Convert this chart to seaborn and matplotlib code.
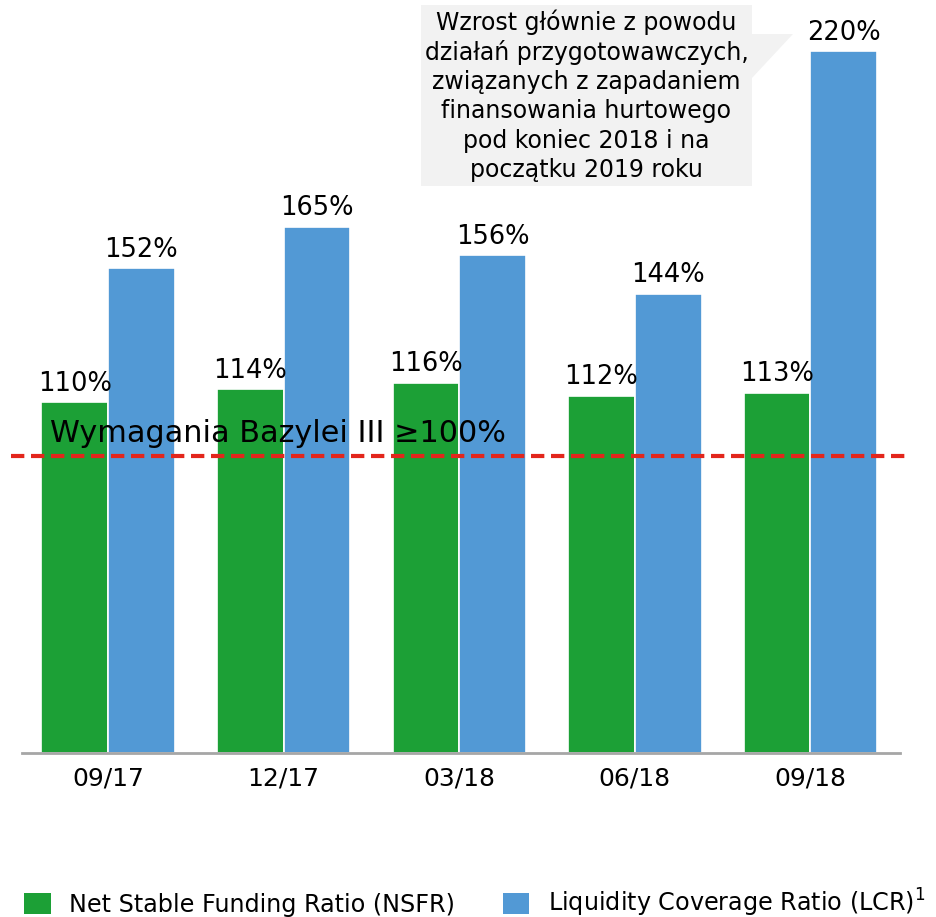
import matplotlib
matplotlib.use("Agg")
import matplotlib.pyplot as plt
import seaborn as sns
import pandas as pd
from matplotlib.patches import Polygon, Patch

periods = ["09/17", "12/17", "03/18", "06/18", "09/18"]
nsfr = [110, 114, 116, 112, 113]
lcr = [152, 165, 156, 144, 220]
series_names = ["Net Stable Funding Ratio (NSFR)", "Liquidity Coverage Ratio (LCR)$^1$"]
threshold_label = "Wymagania Bazylei III ≥100%"
note_text = ("Wzrost głównie z powodu\ndziałań przygotowawczych,\nzwiązanych z zapadaniem\n"
             "finansowania hurtowego\npod koniec 2018 i na\npoczątku 2019 roku")

GREEN = "#1ca036"
BLUE = "#5299d5"
RED = "#e3261c"

sns.set_theme(style="white")
plt.rcParams["font.family"] = ["DejaVu Sans"]

df = pd.DataFrame({
    "period": periods * 2,
    "metric": [series_names[0]] * len(periods) + [series_names[1]] * len(periods),
    "value": nsfr + lcr,
})

fig = plt.figure(figsize=(9.37, 9.17), dpi=100)
ax = fig.add_axes([0.0235, 0.1788, 0.937, 0.80])

sns.barplot(data=df, x="period", y="value", hue="metric", palette=[GREEN, BLUE],
            saturation=1, width=0.76, edgecolor="white", linewidth=1.2, ax=ax,
            legend=False)

ax.set_xlim(-0.49, 4.51)
ax.set_ylim(0, 230)
ax.set_xlabel("")
ax.set_ylabel("")
ax.set_yticks([])
for s in ["top", "right", "left"]:
    ax.spines[s].set_visible(False)
ax.spines["bottom"].set_color("#a6a6a6")
ax.spines["bottom"].set_linewidth(2)
ax.tick_params(axis="x", length=0, labelsize=18, pad=10, colors="black")

for cont in ax.containers:
    ax.bar_label(cont, labels=[f"{v:.0f}%" for v in cont.datavalues], padding=4,
                 fontsize=18.5, color="black")

# threshold dashed line
ax.axhline(93, xmin=-0.012, xmax=1.006, color=RED, lw=3, ls=(0, (3.2, 1.6)),
           clip_on=False, zorder=5)
ax.text(-0.33, 95.5, threshold_label, fontsize=21.8, color="black", ha="left",
        va="bottom", zorder=6)

# callout box
box_l, box_r, box_t, box_b = 421 / 937, 752 / 937, 1 - 5 / 917, 1 - 186 / 917
fig.patches.append(plt.Rectangle((box_l, box_b), box_r - box_l, box_t - box_b,
                                 transform=fig.transFigure, facecolor="#f2f2f2",
                                 edgecolor="none", zorder=1))
fig.patches.append(Polygon([(box_r - 0.002, 1 - 34 / 917), (793 / 937, 1 - 34 / 917),
                            (box_r - 0.002, 1 - 80 / 917)], closed=True,
                           transform=fig.transFigure, facecolor="#f2f2f2",
                           edgecolor="none", zorder=1))
fig.text((box_l + box_r) / 2, (box_t + box_b) / 2, note_text, ha="center",
         va="center", fontsize=17, linespacing=1.27, color="black", zorder=3)

handles = [Patch(facecolor=GREEN, edgecolor="none"), Patch(facecolor=BLUE, edgecolor="none")]
fig.legend(handles, series_names, loc="lower left", bbox_to_anchor=(22 / 937, -0.005),
           ncol=2, frameon=False, fontsize=17.2, handlelength=1.1, handleheight=0.95,
           handletextpad=0.78, columnspacing=2.0, borderpad=0.1, borderaxespad=0,
           labelcolor="black")

fig.savefig("out.png", dpi=100)
